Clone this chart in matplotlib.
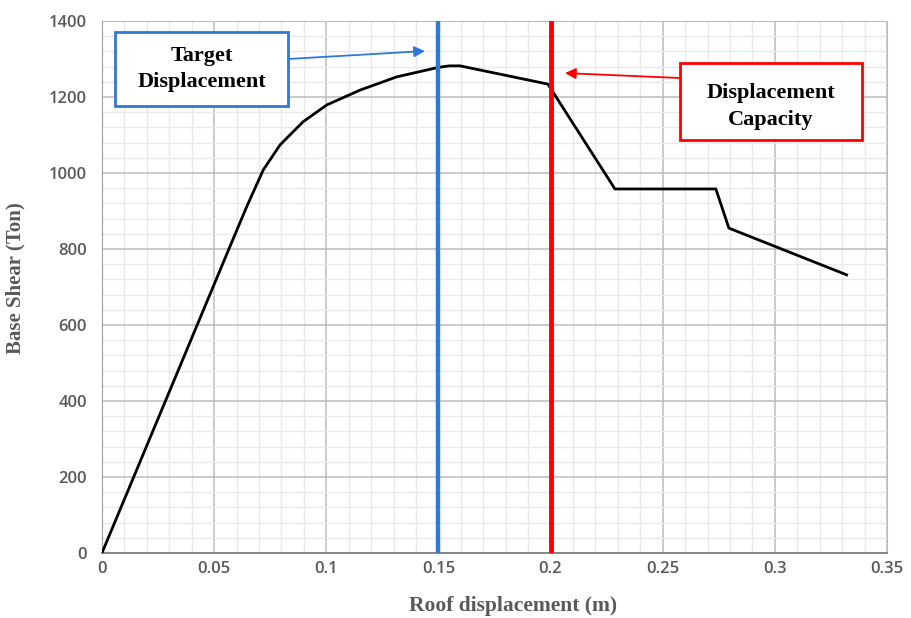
import numpy as np
import matplotlib.pyplot as plt
from matplotlib.ticker import MultipleLocator
from matplotlib.patches import Rectangle

# pushover curve
disp = [0, 0.0566, 0.0645, 0.0719, 0.0794, 0.0897,
        0.1002, 0.115, 0.1314, 0.150, 0.155, 0.1596, 0.1988, 0.2287, 0.2737,
        0.2795, 0.332]
shear = [0, 800, 911, 1008, 1074, 1135,
         1179, 1218, 1253, 1278, 1282, 1282, 1234, 958, 958,
         855, 732]

target_disp = 0.15
capacity_disp = 0.2

xticks = [0, 0.05, 0.1, 0.15, 0.2, 0.25, 0.3, 0.35]
xticklabels = ['0', '0.05', '0.1', '0.15', '0.2', '0.25', '0.3', '0.35']
yticks = [0, 200, 400, 600, 800, 1000, 1200, 1400]

blue = '#2f78d4'
red = '#ff0000'
gray_txt = '#595959'

fig = plt.figure(figsize=(9.12, 6.18), dpi=100)
ax = fig.add_axes([0.1118, 0.1052, 0.8608, 0.8608])

ax.set_xlim(0, 0.35)
ax.set_ylim(0, 1400)
ax.set_xticks(xticks)
ax.set_xticklabels(xticklabels)
ax.set_yticks(yticks)
ax.xaxis.set_minor_locator(MultipleLocator(0.01))
ax.yaxis.set_minor_locator(MultipleLocator(40))
ax.grid(which='minor', color='#e9e9e9', lw=1.0)
ax.grid(which='major', color='#bcbcbc', lw=1.1)
ax.set_axisbelow(True)
ax.tick_params(which='both', length=0)
ax.tick_params(axis='x', pad=6)
ax.tick_params(axis='y', pad=11)
for lab in ax.get_xticklabels() + ax.get_yticklabels():
    lab.set_fontfamily('Open Sans')
    lab.set_fontweight('semibold')
    lab.set_fontsize(12)
    lab.set_color(gray_txt)

for s in ['top', 'right']:
    ax.spines[s].set_color('#bcbcbc')
ax.spines['left'].set_color('#a0a0a0')
ax.spines['bottom'].set_color('#808080')
ax.spines['bottom'].set_linewidth(1.3)

ax.plot(disp, shear, color='black', lw=2, zorder=4)
ax.axvline(target_disp, color=blue, lw=3.2, zorder=5)
ax.axvline(capacity_disp, color=red, lw=3.5, zorder=5)

ax.set_xlabel('Roof displacement (m)', family='Liberation Serif', weight='bold',
              fontsize=15.5, color=gray_txt)
ax.xaxis.set_label_coords(0.5236, -0.081)
ax.set_ylabel('Base Shear (Ton)', family='Liberation Serif', weight='bold',
              fontsize=15, color=gray_txt)
ax.yaxis.set_label_coords(-0.098, 0.517)

# annotation boxes
ax.add_patch(Rectangle((0.0166, 0.8402), 0.2203, 0.1391, transform=ax.transAxes,
                       fc='white', ec=blue, lw=2, zorder=6, clip_on=False))
ax.text(0.1268, 0.9097, 'Target\nDisplacement', ha='center', va='center',
        transform=ax.transAxes, family='Liberation Serif', weight='bold',
        fontsize=16, linespacing=1.45, zorder=7)
ax.annotate('', xy=(0.144, 1321), xytext=(0.0829, 1300),
            arrowprops=dict(arrowstyle='-|>', color=blue, lw=1.3,
                            mutation_scale=16, shrinkA=0, shrinkB=0), zorder=6)

ax.add_patch(Rectangle((0.7363, 0.7763), 0.2319, 0.1448, transform=ax.transAxes,
                       fc='white', ec=red, lw=2, zorder=6, clip_on=False))
ax.text(0.8522, 0.8400, 'Displacement\nCapacity', ha='center', va='center',
        transform=ax.transAxes, family='Liberation Serif', weight='bold',
        fontsize=16, linespacing=1.45, zorder=7)
ax.annotate('', xy=(0.2064, 1263), xytext=(0.2577, 1250),
            arrowprops=dict(arrowstyle='-|>', color=red, lw=1.3,
                            mutation_scale=16, shrinkA=0, shrinkB=0), zorder=6)

fig.savefig('out.png', dpi=100)
